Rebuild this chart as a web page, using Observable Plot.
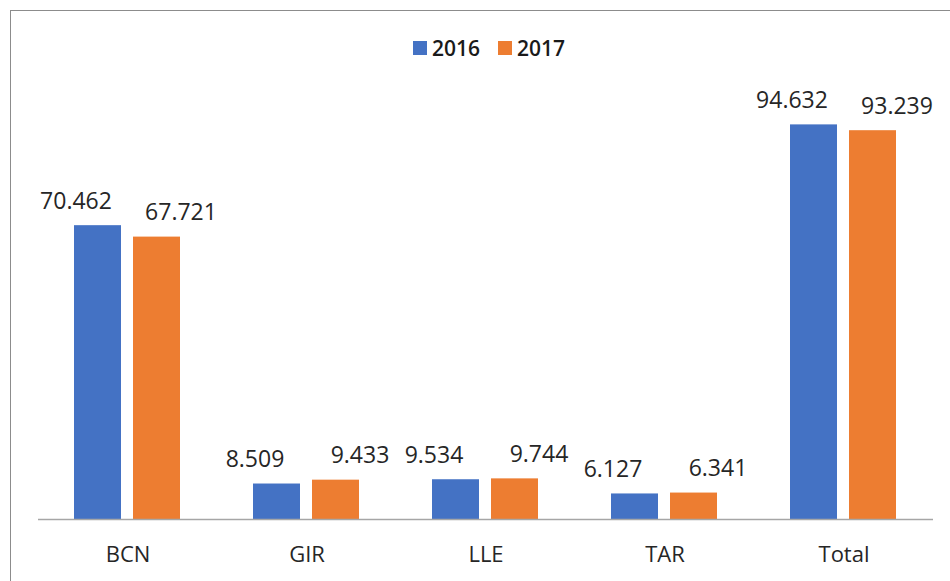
<!DOCTYPE html>
<html>
<head>
<meta charset="utf-8">
<script src="https://cdn.jsdelivr.net/npm/d3@7"></script>
<script src="https://cdn.jsdelivr.net/npm/@observablehq/plot@0.6"></script>
<style>
  html, body { margin: 0; padding: 0; background: #fff; }
  #wrap { position: relative; width: 950px; height: 581px; overflow: hidden; font-family: "Open Sans", sans-serif; }
  #frame { position: absolute; left: 10px; top: 10px; width: 1000px; height: 1000px; border-top: 1.5px solid #8c8c8c; border-left: 1.5px solid #8c8c8c; }
  #legend { position: absolute; left: 413px; top: 34px; display: flex; align-items: center; font-weight: 600; font-size: 21px; color: #1a1a1a; }
  #legend .item { display: flex; align-items: center; margin-right: 18px; }
  #legend .sw { width: 14px; height: 14px; margin-right: 5px; }
  #chart { position: absolute; left: 0; top: 80px; }
</style>
</head>
<body>
<div id="wrap">
  <div id="frame"></div>
  <div id="legend"></div>
  <div id="chart"></div>
</div>
<script>
const categories = ["BCN", "GIR", "LLE", "TAR", "Total"];
const years = ["2016", "2017"];
const values2016 = [70462, 8509, 9534, 6127, 94632];
const values2017 = [67721, 9433, 9744, 6341, 93239];
const colors = ["#4472C4", "#ED7D31"];

const data = categories.flatMap((c, i) => [
  {cat: c, year: years[0], value: values2016[i]},
  {cat: c, year: years[1], value: values2017[i]}
]);

const fmt = v => d3.format(",")(v).replace(/,/g, ".");

const legend = document.getElementById("legend");
years.forEach((y, i) => {
  const it = document.createElement("div");
  it.className = "item";
  const sw = document.createElement("div");
  sw.className = "sw";
  sw.style.background = colors[i];
  const t = document.createElement("span");
  t.textContent = y;
  it.appendChild(sw);
  it.appendChild(t);
  legend.appendChild(it);
});

const chart = Plot.plot({
  width: 950,
  height: 501,
  marginLeft: 38,
  marginRight: 17,
  marginTop: 22,
  marginBottom: 62,
  style: {fontFamily: "Open Sans, sans-serif", color: "#262626", background: "transparent"},
  fx: {domain: categories, padding: 0, label: null},
  x: {domain: years, paddingInner: 0.2, paddingOuter: 0.592, axis: null},
  y: {domain: [0, 100000], axis: null},
  color: {domain: years, range: colors},
  marks: [
    Plot.barY(data, {fx: "cat", x: "year", y: "value", fill: "year"}),
    Plot.ruleY([0], {stroke: "#a6a6a6", strokeWidth: 1.5}),
    Plot.text(data.filter(d => d.year === years[0]), {
      fx: "cat", x: "year", y: "value", text: d => fmt(d.value),
      dx: -22, dy: -17, lineAnchor: "bottom", fontSize: 23, fill: "#262626"
    }),
    Plot.text(data.filter(d => d.year === years[1]), {
      fx: "cat", x: "year", y: "value", text: d => fmt(d.value),
      dx: 24, dy: -17, lineAnchor: "bottom", fontSize: 23, fill: "#262626"
    }),
    Plot.axisFx({anchor: "bottom", tickSize: 0, tickPadding: 27, fontSize: 22, label: null, fill: "#262626"})
  ]
});
document.getElementById("chart").appendChild(chart);
</script>
</body>
</html>
